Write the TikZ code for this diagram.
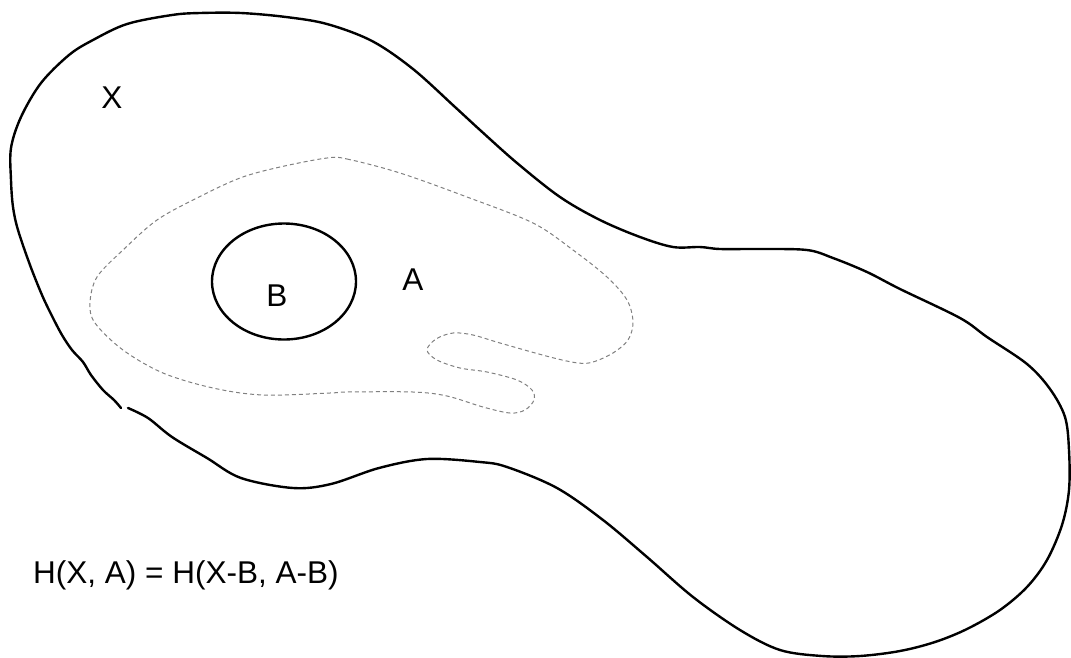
\documentclass[tikz,border=0pt]{standalone}
\usepackage{fontspec}
\setmainfont{Liberation Sans}
\usetikzlibrary{shapes.geometric}
\tikzset{
  outline/.style={line width=2.4pt, black, line join=round, line cap=round},
  subset/.style={line width=1pt, black!50, dash pattern=on 4pt off 3pt},
  lbl/.style={font=\fontsize{31.5}{36}\selectfont, inner sep=0pt, anchor=base},
}
\begin{document}
\begin{tikzpicture}[x=1pt, y=-1pt]
\useasboundingbox (0,0) rectangle (1071,657);
% space X
\draw[outline] plot[smooth, tension=0.55] coordinates {
 (128,408) (148,418) (172,437) (207,458) (241,478) (293,488) (331,484) (379,468)
 (427,459) (480,462) (507,467) (557,488) (603,520) (647,557) (693,597) (740,630)
 (780,650) (822,656) (860,656) (900,651) (935,642) (967,629) (1000,610) (1027,587)
 (1047,560) (1062,525) (1069,490) (1069,450) (1065,417) (1050,389) (1027,364)
 (987,337) (960,318) (900,289) (867,272) (833,258) (807,250) (760,249) (720,249)
 (700,247) (673,247) (640,237) (600,220) (560,197) (517,163) (480,130) (455,107)
 (413,69) (372,41) (327,24) (286,17) (241,13) (200,13) (172,15) (127,24) (93,40)
 (69,55) (41,83) (21,117) (11,148) (11,180) (13,207) (18,230) (30,265) (42,295)
 (52,316) (62,335) (72,350) (83,362) (91,375) (103,390) (114,400) (121,408)
};
% subspace A
\draw[subset] plot[smooth cycle, tension=0.55] coordinates {
 (327,158) (347,159) (400,173) (467,197) (533,223) (573,250) (607,277) (627,300)
 (633,322) (628,340) (613,353) (593,362) (578,363) (550,357) (500,343) (473,335)
 (453,333) (436,339) (427,350) (437,360) (460,368) (487,372) (517,380) (532,390)
 (534,400) (525,410) (510,413) (483,407) (447,396) (413,392) (347,392) (330,393)
 (263,395) (213,388) (163,373) (123,350) (95,323) (90,303) (97,277) (123,250)
 (157,220) (197,198) (240,178) (280,167)
};
% subset B
\node[draw, ellipse, line width=2.4pt, minimum width=144pt, minimum height=116pt, inner sep=0pt] (Bset) at (284,281.5) {};
% labels
\node[lbl] (Xlab) at (112,108) {X};
\node[lbl] (Alab) at (413,290) {A};
\node[lbl] (Blab) at (277,306) {B};
\node[lbl, anchor=base west] (formula) at (33,583) {H(X, A) = H(X-B, A-B)};
\end{tikzpicture}
\end{document}
